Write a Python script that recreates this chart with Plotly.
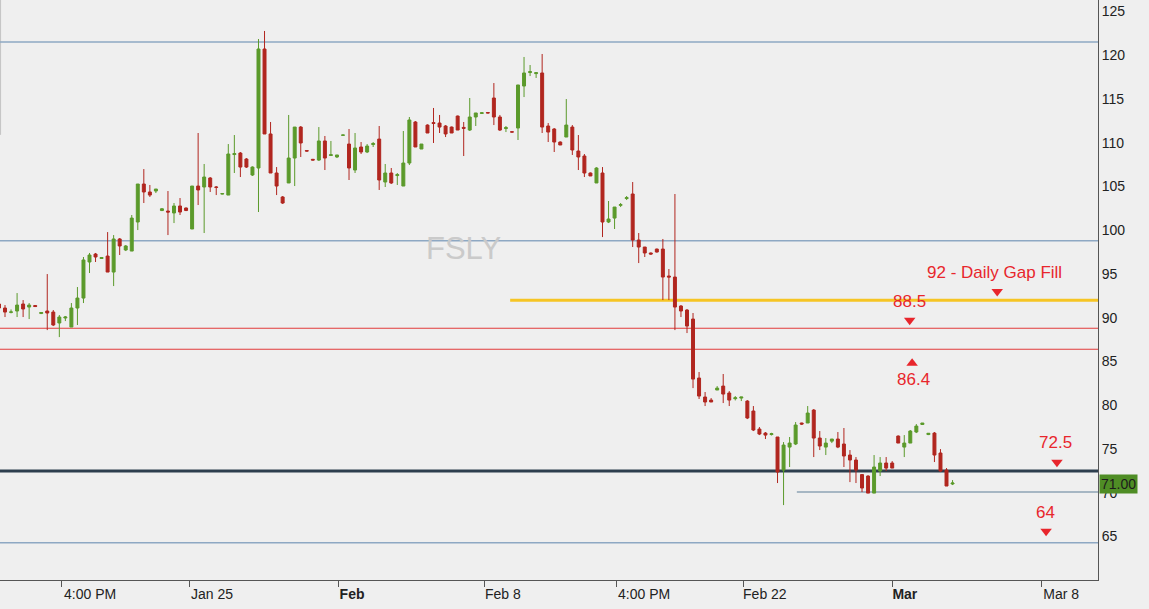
import plotly.graph_objects as go

# ---------------- data ----------------
opens = [91.57, 91.11, 90.62, 90.77, 91.57, 91.22, 91.40, 90.48, 90.77, 90.65,
         89.40, 89.97, 88.94, 91.11, 92.25, 96.37, 97.28, 96.77, 97.05, 95.22,
         99.00, 97.74, 97.62, 100.94, 105.28, 104.37, 104.48, 102.25, 102.19, 101.97,
         102.77, 102.54, 100.14, 105.05, 104.94, 105.97, 104.94, 104.14, 104.02, 108.65,
         108.82, 108.14, 106.31, 107.11, 120.71, 111.00, 106.54, 103.80, 105.40, 108.25,
         111.79, 109.10, 108.10, 108.02, 110.20, 108.55, 108.37, 110.85, 109.85, 106.88,
         109.51, 108.94, 109.80, 110.42, 105.51, 106.54, 106.25, 105.05, 107.68, 112.37,
         109.28, 112.02, 112.30, 112.25, 111.91, 111.79, 113.05, 111.75, 111.45, 112.94,
         113.35, 113.45, 115.11, 112.94, 111.62, 111.25, 111.68, 116.48, 118.02, 117.90,
         117.97, 111.91, 111.57, 110.08, 110.65, 111.79, 109.05, 108.48, 106.54, 105.40,
         106.54, 100.94, 101.39, 102.85, 103.62, 104.14, 98.88, 98.08, 97.40, 97.85,
         97.85, 94.77, 94.65, 91.34, 90.88, 89.85, 83.11, 80.94, 80.59, 81.74,
         82.19, 81.40, 80.75, 80.82, 80.48, 79.34, 77.28, 76.82, 76.65, 76.37,
         72.59, 75.22, 75.57, 77.97, 77.97, 79.45, 76.25, 75.22, 75.90, 76.14,
         75.57, 74.31, 73.74, 72.08, 71.91, 69.96, 72.48, 73.40, 73.40, 76.48,
         75.22, 75.68, 76.94, 77.80, 76.65, 76.82, 74.54, 72.59, 71.00]
highs = [91.79, 91.45, 90.95, 92.82, 92.02, 91.68, 91.45, 90.60, 94.99, 90.88,
         90.31, 90.20, 91.68, 93.51, 96.94, 97.40, 97.40, 96.88, 99.79, 99.45,
         99.11, 98.31, 101.74, 105.28, 106.99, 105.17, 104.71, 102.54, 104.48, 103.11,
         103.68, 102.60, 105.05, 111.11, 107.57, 106.08, 105.05, 104.20, 109.85, 110.88,
         108.94, 108.25, 107.30, 121.85, 122.77, 112.37, 107.22, 103.91, 113.17, 111.79,
         111.91, 109.15, 108.15, 111.79, 110.77, 110.20, 108.60, 110.90, 111.57, 111.11,
         110.08, 109.85, 110.08, 111.91, 107.57, 107.11, 106.54, 111.34, 112.94, 112.48,
         109.85, 112.10, 113.97, 113.17, 112.02, 111.85, 113.10, 112.37, 115.11, 113.40,
         113.45, 113.50, 116.82, 113.17, 111.91, 111.30, 116.60, 119.80, 118.88, 118.08,
         120.14, 112.25, 111.68, 110.15, 114.99, 112.02, 110.88, 108.71, 106.60, 107.20,
         107.22, 103.34, 102.65, 103.11, 103.91, 105.51, 99.68, 98.08, 97.45, 97.90,
         99.00, 95.57, 104.14, 91.45, 91.00, 90.54, 83.80, 81.51, 80.82, 82.19,
         83.57, 81.62, 81.05, 80.94, 80.59, 79.91, 77.51, 76.94, 76.85, 76.37,
         75.79, 76.37, 78.08, 78.00, 79.91, 79.57, 77.05, 76.25, 76.14, 76.94,
         77.40, 74.88, 74.08, 72.08, 72.00, 74.31, 74.08, 74.08, 73.62, 76.55,
         76.59, 77.17, 77.85, 77.97, 76.82, 76.94, 74.99, 72.82, 71.45]
lows = [90.88, 90.08, 90.50, 90.08, 90.08, 89.85, 91.22, 90.42, 88.59, 89.05,
        87.79, 89.62, 88.94, 89.17, 91.68, 95.11, 96.37, 96.77, 95.22, 93.62,
        97.17, 97.62, 97.62, 100.02, 103.11, 103.80, 104.25, 102.19, 99.45, 100.82,
        101.74, 102.19, 100.14, 102.88, 99.68, 104.37, 104.02, 104.10, 104.02, 106.54,
        106.08, 107.11, 106.20, 102.08, 111.00, 106.54, 104.02, 103.00, 105.40, 105.05,
        108.37, 109.00, 108.00, 107.91, 106.88, 108.48, 108.25, 110.80, 105.74, 106.54,
        108.71, 108.82, 109.51, 104.60, 104.94, 105.28, 105.17, 105.05, 107.45, 109.51,
        109.28, 111.11, 109.97, 111.11, 110.65, 111.11, 111.45, 108.48, 111.34, 111.91,
        113.30, 113.38, 112.02, 111.34, 111.22, 111.20, 110.31, 115.22, 117.62, 117.40,
        111.11, 110.08, 108.94, 109.74, 110.65, 108.60, 106.88, 106.08, 106.20, 105.40,
        99.22, 100.82, 100.14, 102.65, 103.45, 98.08, 96.25, 96.94, 97.20, 97.45,
        92.02, 92.02, 88.59, 90.08, 88.25, 81.96, 80.71, 79.91, 80.37, 81.74,
        80.25, 79.91, 80.55, 80.48, 78.42, 77.05, 76.59, 76.14, 76.55, 71.11,
        68.59, 72.94, 75.45, 77.74, 77.97, 74.08, 74.88, 74.31, 75.68, 75.10,
        72.94, 71.22, 71.11, 70.08, 69.96, 69.96, 71.91, 72.48, 72.82, 75.68,
        74.08, 75.68, 76.82, 77.74, 76.59, 73.51, 72.37, 70.77, 70.88]
closes = [91.11, 90.65, 90.66, 91.45, 91.00, 91.45, 91.28, 90.60, 90.54, 89.17,
          90.08, 90.08, 91.11, 92.25, 96.60, 97.17, 96.94, 96.88, 95.22, 99.00,
          98.20, 98.20, 101.39, 105.28, 104.37, 104.02, 104.71, 102.45, 102.08, 102.77,
          102.08, 102.25, 105.05, 104.60, 106.08, 104.94, 104.90, 104.18, 108.71, 108.75,
          107.22, 107.22, 107.22, 120.71, 111.00, 106.54, 105.05, 103.11, 108.25, 111.79,
          109.97, 109.05, 108.02, 110.20, 108.25, 108.62, 108.60, 110.88, 107.11, 109.40,
          108.94, 109.62, 109.90, 105.74, 106.54, 105.40, 106.35, 107.68, 112.60, 109.51,
          109.85, 111.11, 112.20, 111.79, 111.00, 111.11, 111.45, 111.65, 112.94, 113.40,
          113.42, 113.40, 112.94, 111.45, 111.72, 111.22, 116.60, 117.97, 118.12, 118.00,
          111.79, 111.22, 110.08, 109.74, 112.02, 109.17, 108.37, 106.54, 106.20, 107.11,
          100.94, 101.28, 102.65, 102.92, 103.72, 98.88, 98.08, 97.40, 97.28, 97.51,
          94.65, 94.65, 91.22, 90.77, 89.05, 82.99, 81.05, 80.37, 80.37, 81.96,
          81.28, 80.59, 80.85, 80.94, 78.54, 77.17, 76.71, 76.59, 76.75, 72.37,
          75.45, 75.68, 77.74, 77.85, 79.11, 76.25, 75.34, 75.68, 76.14, 75.22,
          74.20, 73.74, 72.59, 70.54, 69.96, 72.94, 73.40, 72.82, 72.82, 75.68,
          75.68, 77.05, 77.62, 77.97, 76.80, 74.31, 72.48, 70.77, 71.11]

tick_marks = [10.4, 31.5, 56.3, 80.4, 102.4, 123.3, 148.1, 172.8]
label_centers = [15.1, 35.3, 58.5, 83.5, 106.9, 126.9, 150.1, 176.0]
tick_labels = ["4:00 PM", "Jan 25", "<b>Feb</b>", "Feb 8", "4:00 PM", "Feb 22", "<b>Mar</b>", "Mar 8"]
price_ticks = [65, 70, 75, 80, 85, 90, 95, 100, 105, 110, 115, 120, 125]

steel_levels = [121.5, 98.8, 64.3]
red_levels = [88.8, 86.4]
gap_fill_level = 92.0
gap_fill_start = 84.7
support_level = 72.5
recent_low_level = 70.1
recent_low_start = 132.2
last_price = 71.00

note_texts = ["92 - Daily Gap Fill", "88.5", "86.4", "72.5", "64"]
note_x = [165.0, 150.9, 151.6, 175.1, 173.4]
note_y = [95.2, 91.9, 82.9, 75.7, 67.7]
arrow_x = [165.4, 150.9, 151.3, 175.3, 173.5]
arrow_y = [93.0, 89.7, 84.8, 73.5, 65.6]
arrow_symbols = ["triangle-down", "triangle-down", "triangle-up", "triangle-down", "triangle-down"]

x_range = [0.17, 182.1]
y_range = [60.03, 126.31]

# ---------------- figure ----------------
GREEN = "#5b9a2b"
RED = "#b1261f"
TXT_RED = "#e8262c"
BG = "#efefef"

idx = list(range(len(opens)))
fig = go.Figure()
fig.add_trace(go.Candlestick(
    x=idx, open=opens, high=highs, low=lows, close=closes,
    increasing=dict(line=dict(color=GREEN, width=1), fillcolor=GREEN),
    decreasing=dict(line=dict(color=RED, width=1), fillcolor=RED),
    showlegend=False, hoverinfo="skip"))

# invisible trace to carry the label axis
fig.add_trace(go.Scatter(x=label_centers, y=[y_range[0]] * len(label_centers),
                         xaxis="x2", yaxis="y", mode="markers",
                         marker=dict(opacity=0), showlegend=False, hoverinfo="skip"))

fig.add_trace(go.Scatter(x=arrow_x, y=arrow_y, mode="markers",
                         marker=dict(symbol=arrow_symbols, size=10, color=TXT_RED),
                         showlegend=False, hoverinfo="skip"))

shapes = []
for lv in steel_levels:
    shapes.append(dict(type="line", xref="x", yref="y", x0=x_range[0] - 1, x1=x_range[1],
                       y0=lv, y1=lv, line=dict(color="#8ea8c3", width=1.5), layer="below"))
for lv in red_levels:
    shapes.append(dict(type="line", xref="x", yref="y", x0=x_range[0] - 1, x1=x_range[1],
                       y0=lv, y1=lv, line=dict(color="#e23b3b", width=1.2), layer="below"))
shapes.append(dict(type="line", xref="x", yref="y", x0=gap_fill_start, x1=x_range[1],
                   y0=gap_fill_level, y1=gap_fill_level,
                   line=dict(color="#f6c524", width=3), layer="below"))
shapes.append(dict(type="line", xref="x", yref="y", x0=x_range[0] - 1, x1=x_range[1],
                   y0=support_level, y1=support_level,
                   line=dict(color="#2d3e4e", width=3), layer="below"))
shapes.append(dict(type="line", xref="x", yref="y", x0=recent_low_start, x1=x_range[1],
                   y0=recent_low_level, y1=recent_low_level,
                   line=dict(color="#8ea3b5", width=1.5), layer="below"))
# faint frame stub at the left edge
shapes.append(dict(type="line", xref="paper", yref="y", x0=0.0005, x1=0.0005,
                   y0=110.9, y1=y_range[1], line=dict(color="#c4c4c4", width=1), layer="below"))

annotations = []
for t, ax_, ay_ in zip(note_texts, note_x, note_y):
    annotations.append(dict(x=ax_, y=ay_, xref="x", yref="y", text=t, showarrow=False,
                            font=dict(family="Liberation Sans, Arial, sans-serif", size=17,
                                      color=TXT_RED)))
annotations.append(dict(x=76.9, y=97.9, xref="x", yref="y", text="FSLY", showarrow=False,
                        font=dict(family="Liberation Sans, Arial, sans-serif", size=31,
                                  color="#cacaca")))
annotations.append(dict(x=1, y=last_price, xref="paper", yref="y", text="71.00",
                        showarrow=False, xanchor="left", xshift=1,
                        bgcolor="#4f8d25", borderpad=1,
                        font=dict(family="Liberation Sans, Arial, sans-serif", size=14,
                                  color="#1c1c1c")))

fig.update_layout(
    width=1149, height=609,
    margin=dict(l=0, r=51, t=0, b=29, pad=0),
    paper_bgcolor=BG, plot_bgcolor=BG,
    shapes=shapes, annotations=annotations,
    showlegend=False,
    xaxis=dict(range=x_range, rangeslider=dict(visible=False), showgrid=False,
               zeroline=False, showline=True, linecolor="#555555", linewidth=1,
               tickmode="array", tickvals=tick_marks, ticktext=[""] * len(tick_marks),
               ticks="outside", ticklen=6, tickcolor="#555555", showticklabels=False),
    xaxis2=dict(range=x_range, overlaying="x", anchor="y", side="bottom",
                showgrid=False, zeroline=False, showline=False,
                tickmode="array", tickvals=label_centers, ticktext=tick_labels,
                ticks="", ticklabelstandoff=4,
                tickfont=dict(family="Liberation Sans Narrow, Arial Narrow, Liberation Sans, Arial",
                              size=14, color="#222222")),
    yaxis=dict(range=y_range, side="right", showgrid=False, zeroline=False,
               showline=True, linecolor="#555555", linewidth=1,
               tickmode="array", tickvals=price_ticks, ticks="",
               tickfont=dict(family="Liberation Sans, Arial, sans-serif", size=14,
                             color="#222222")),
)

fig.write_html("out.html")
